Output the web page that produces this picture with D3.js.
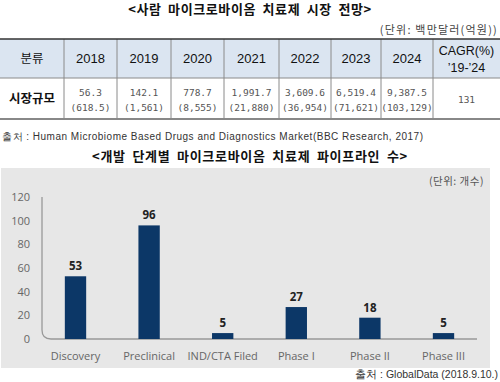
<!DOCTYPE html>
<html>
<head>
<meta charset="utf-8">
<script src="https://cdn.jsdelivr.net/npm/d3@7"></script>
<style>
  body { margin: 0; background: #fff; }
  svg { display: block; }
</style>
</head>
<body>
<div id="chart"></div>
<script>
// table data
const years = ['2018', '2019', '2020', '2021', '2022', '2023', '2024'];
const usdValues = ['56.3', '142.1', '778.7', '1,991.7', '3,609.6', '6,519.4', '9,387.5'];
const krwValues = ['(618.5)', '(1,561)', '(8,555)', '(21,880)', '(36,954)', '(71,621)', '(103,129)'];
const cagr = '131';

// bar chart data
const stages = ['Discovery', 'Preclinical', 'IND/CTA Filed', 'Phase I', 'Phase II', 'Phase III'];
const counts = [53, 96, 5, 27, 18, 5];
const yTicks = [0, 20, 40, 60, 80, 100, 120];

const W = 500, H = 382;
const KR = '"Noto Sans CJK KR", "Noto Sans", sans-serif';
const NUM = '"Liberation Sans", Arial, sans-serif';
const CHART_FONT = '"Open Sans", "Noto Sans", sans-serif';

const svg = d3.select('#chart').append('svg')
  .attr('width', W).attr('height', H);

// ---- table section ----
svg.append('text')
  .attr('x', 250).attr('y', 14)
  .attr('text-anchor', 'middle')
  .style('font-family', KR).style('font-size', '13px').style('font-weight', 'bold')
  .style('letter-spacing', '0.6px').style('word-spacing', '3px')
  .attr('fill', '#111')
  .text('<사람 마이크로바이옴 치료제 시장 전망>');

svg.append('text')
  .attr('x', 498).attr('y', 34)
  .attr('text-anchor', 'end')
  .style('font-family', KR).style('font-size', '11px')
  .style('letter-spacing', '1.2px')
  .attr('fill', '#444')
  .text('(단위: 백만달러(억원))');

const colEdges = [0, 64, 117, 171, 224, 279, 331, 381, 433, 500];
const tTop = 39, tMid = 78, tBot = 119;

// header background
svg.append('rect')
  .attr('x', 0).attr('y', tTop).attr('width', W).attr('height', tMid - tTop)
  .attr('fill', '#dbe5f1');

// vertical lines
svg.selectAll('line.vcol')
  .data(colEdges.slice(1, -1))
  .join('line')
  .attr('class', 'vcol')
  .attr('x1', d => d).attr('x2', d => d)
  .attr('y1', tTop).attr('y2', tBot)
  .attr('stroke', '#8a8a8a').attr('stroke-width', 1);

svg.append('line')
  .attr('x1', 0).attr('x2', W).attr('y1', tMid).attr('y2', tMid)
  .attr('stroke', '#8a8a8a').attr('stroke-width', 1);
svg.append('line')
  .attr('x1', 0).attr('x2', W).attr('y1', tTop).attr('y2', tTop)
  .attr('stroke', '#333').attr('stroke-width', 1.5);
svg.append('line')
  .attr('x1', 0).attr('x2', W).attr('y1', tBot).attr('y2', tBot)
  .attr('stroke', '#888').attr('stroke-width', 2);

const colCenter = i => (colEdges[i] + colEdges[i + 1]) / 2;
const headY = (tTop + tMid) / 2 + 4.5;

svg.append('text')
  .attr('x', colCenter(0)).attr('y', headY)
  .attr('text-anchor', 'middle')
  .style('font-family', KR).style('font-size', '12.5px')
  .attr('fill', '#111').text('분류');

svg.selectAll('text.year')
  .data(years)
  .join('text')
  .attr('class', 'year')
  .attr('x', (d, i) => colCenter(i + 1)).attr('y', headY)
  .attr('text-anchor', 'middle')
  .style('font-family', NUM).style('font-size', '13px')
  .attr('fill', '#111').text(d => d);

svg.append('text')
  .attr('x', colCenter(8)).attr('y', headY - 8)
  .attr('text-anchor', 'middle')
  .style('font-family', NUM).style('font-size', '12.5px')
  .attr('fill', '#111').text('CAGR(%)');
svg.append('text')
  .attr('x', colCenter(8)).attr('y', headY + 9)
  .attr('text-anchor', 'middle')
  .style('font-family', NUM).style('font-size', '12.5px')
  .attr('fill', '#111').text('\u201919-\u201924');

const rowY = (tMid + tBot) / 2;
svg.append('text')
  .attr('x', colCenter(0)).attr('y', rowY + 4.5)
  .attr('text-anchor', 'middle')
  .style('font-family', KR).style('font-size', '12.5px').style('font-weight', 'bold')
  .attr('fill', '#111').text('시장규모');

svg.selectAll('text.usd')
  .data(usdValues)
  .join('text')
  .attr('class', 'usd')
  .attr('x', (d, i) => colCenter(i + 1)).attr('y', rowY - 2.5)
  .attr('text-anchor', 'middle')
  .style('font-family', '"DejaVu Sans Mono", monospace').style('font-size', '9.5px')
  .attr('fill', '#555').text(d => d);

svg.selectAll('text.krw')
  .data(krwValues)
  .join('text')
  .attr('class', 'krw')
  .attr('x', (d, i) => colCenter(i + 1)).attr('y', rowY + 12)
  .attr('text-anchor', 'middle')
  .style('font-family', '"DejaVu Sans Mono", monospace').style('font-size', '9.5px')
  .attr('fill', '#555').text(d => d);

svg.append('text')
  .attr('x', colCenter(8)).attr('y', rowY + 4)
  .attr('text-anchor', 'middle')
  .style('font-family', '"DejaVu Sans Mono", monospace').style('font-size', '9.5px')
  .attr('fill', '#555').text(cagr);

svg.append('text')
  .attr('x', 2).attr('y', 140)
  .style('font-family', NUM).style('font-size', '10px')
  .style('letter-spacing', '0.5px')
  .attr('fill', '#333')
  .text('출처 : Human Microbiome Based Drugs and Diagnostics Market(BBC Research, 2017)');

svg.append('text')
  .attr('x', 250).attr('y', 161)
  .attr('text-anchor', 'middle')
  .style('font-family', KR).style('font-size', '13px').style('font-weight', 'bold')
  .style('letter-spacing', '0.7px').style('word-spacing', '3px')
  .attr('fill', '#111')
  .text('<개발 단계별 마이크로바이옴 치료제 파이프라인 수>');

// ---- bar chart section ----
svg.append('rect')
  .attr('x', 1).attr('y', 168).attr('width', 489).attr('height', 200)
  .attr('fill', '#e7e7e7');

svg.append('text')
  .attr('x', 484).attr('y', 185)
  .attr('text-anchor', 'end')
  .style('font-family', KR).style('font-size', '10.5px')
  .style('letter-spacing', '0.5px')
  .attr('fill', '#555').text('(단위: 개수)');

const x = d3.scaleBand().domain(stages).range([38.7, 480.3])
  .paddingInner(0.71).paddingOuter(0.355);
const y = d3.scaleLinear().domain([0, 120]).range([339, 197]);

// axis frame with rounded corner
const axX = 42, r = 9;
svg.append('path')
  .attr('d', `M${axX},${y(120)} L${axX},${y(0) - r} Q${axX},${y(0)} ${axX + r},${y(0)} L477,${y(0)}`)
  .attr('fill', 'none').attr('stroke', '#999').attr('stroke-width', 1.3);

svg.selectAll('text.ytick')
  .data(yTicks)
  .join('text')
  .attr('class', 'ytick')
  .attr('x', 30).attr('y', d => y(d) + 4)
  .attr('text-anchor', 'end')
  .style('font-family', CHART_FONT).style('font-size', '11px')
  .attr('fill', '#666').text(d => d);

svg.selectAll('rect.bar')
  .data(counts)
  .join('rect')
  .attr('class', 'bar')
  .attr('x', (d, i) => x(stages[i]))
  .attr('y', d => y(d))
  .attr('width', x.bandwidth())
  .attr('height', d => y(0) - y(d))
  .attr('fill', '#0c3767');

svg.selectAll('text.val')
  .data(counts)
  .join('text')
  .attr('class', 'val')
  .attr('x', (d, i) => x(stages[i]) + x.bandwidth() / 2)
  .attr('y', d => y(d) - 6)
  .attr('text-anchor', 'middle')
  .style('font-family', CHART_FONT).style('font-size', '11.5px').style('font-weight', 'bold')
  .attr('fill', '#222').text(d => d);

svg.selectAll('text.xlab')
  .data(stages)
  .join('text')
  .attr('class', 'xlab')
  .attr('x', d => x(d) + x.bandwidth() / 2)
  .attr('y', 360)
  .attr('text-anchor', 'middle')
  .style('font-family', CHART_FONT).style('font-size', '11px')
  .attr('fill', '#666').text(d => d);

svg.append('text')
  .attr('x', 498).attr('y', 378)
  .attr('text-anchor', 'end')
  .style('font-family', NUM).style('font-size', '10.5px')
  .attr('fill', '#333').text('출처 : GlobalData (2018.9.10.)');
</script>
</body>
</html>
